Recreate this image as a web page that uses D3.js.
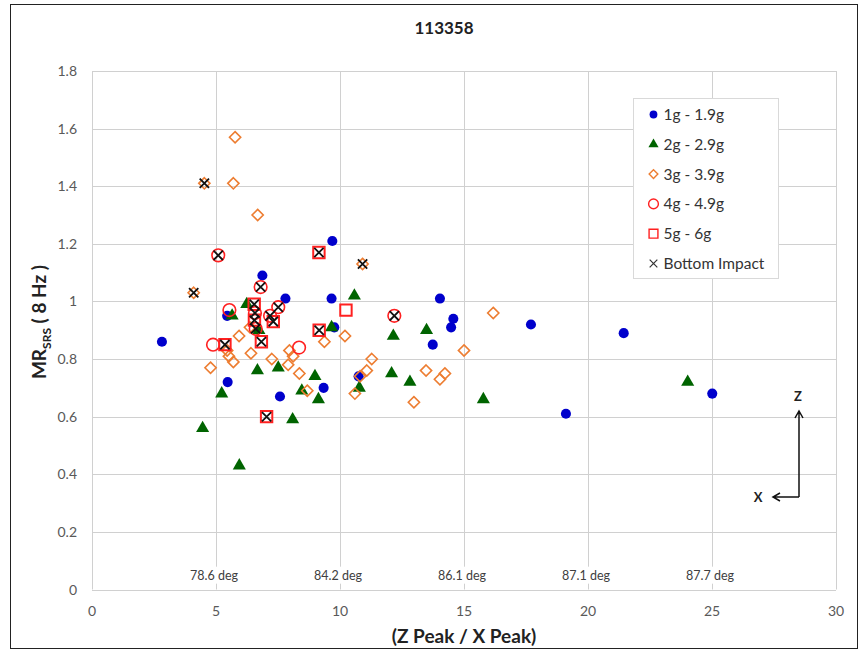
<!DOCTYPE html>
<html>
<head>
<meta charset="utf-8">
<script src="https://cdn.jsdelivr.net/npm/d3@7"></script>
<style>
  body { margin: 0; background: #fff; }
  text { font-family: Lato, "Open Sans", sans-serif; }
</style>
</head>
<body>
<div id="chart"></div>
<script>
/** Series values as [ratio, MR] pairs */
var oneG = [[2.82,0.86],[5.45,0.95],[5.47,0.72],[6.87,1.09],[7.58,0.67],[7.80,1.01],[9.34,0.70],[9.66,1.01],[9.69,1.21],[9.77,0.91],[10.75,0.74],[13.74,0.85],[14.03,1.01],[14.48,0.91],[14.57,0.94],[17.70,0.92],[19.11,0.61],[21.44,0.89],[25.01,0.68]];
var twoG = [[4.46,0.56],[5.23,0.68],[5.65,0.95],[5.94,0.43],[6.24,0.99],[6.67,0.76],[6.73,0.90],[7.51,0.77],[8.09,0.59],[8.46,0.69],[8.99,0.74],[9.13,0.66],[9.66,0.91],[10.58,1.02],[10.78,0.70],[12.08,0.75],[12.15,0.88],[12.82,0.72],[13.49,0.90],[15.78,0.66],[24.02,0.72]];
var threeG = [[4.10,1.03],[4.53,1.41],[4.78,0.77],[5.45,0.83],[5.52,0.81],[5.70,0.79],[5.70,1.41],[5.77,1.57],[5.93,0.88],[6.37,0.91],[6.41,0.82],[6.68,1.30],[7.25,0.80],[7.91,0.78],[7.96,0.83],[8.11,0.81],[8.36,0.75],[8.68,0.69],[9.37,0.86],[10.20,0.88],[10.60,0.68],[10.81,0.74],[10.91,1.13],[11.08,0.76],[11.28,0.80],[12.98,0.65],[13.47,0.76],[14.03,0.73],[14.23,0.75],[15.00,0.83],[16.18,0.96]];
var fourG = [[4.88,0.85],[5.09,1.16],[5.54,0.97],[6.57,0.96],[6.60,0.905],[6.80,1.05],[7.18,0.95],[7.51,0.98],[8.35,0.84],[12.19,0.95]];
var fiveG = [[5.36,0.85],[6.54,0.99],[6.55,0.935],[6.83,0.86],[7.04,0.60],[7.31,0.93],[9.15,1.17],[9.16,0.90],[10.24,0.97]];
var bottomImpact = [[4.10,1.03],[4.53,1.41],[10.91,1.13],[5.09,1.16],[6.57,0.96],[6.60,0.905],[6.80,1.05],[7.18,0.95],[7.51,0.98],[12.19,0.95],[5.36,0.85],[6.54,0.99],[6.55,0.935],[6.83,0.86],[7.04,0.60],[7.31,0.93],[9.15,1.17],[9.16,0.90]];

/** Angle labels along the bottom of the plot */
var degTicks = [5, 10, 15, 20, 25];
var degLabels = ["78.6 deg", "84.2 deg", "86.1 deg", "87.1 deg", "87.7 deg"];
var xTicks = [0, 5, 10, 15, 20, 25, 30];
var yTicks = [0, 0.2, 0.4, 0.6, 0.8, 1, 1.2, 1.4, 1.6, 1.8];

var width = 868, height = 653;
var svg = d3.select("#chart").append("svg")
  .attr("width", width)
  .attr("height", height);

svg.append("rect")
  .attr("x", 10.5).attr("y", 4.5)
  .attr("width", 847).attr("height", 644)
  .attr("fill", "#fff").attr("stroke", "#222").attr("stroke-width", 1);

var x = d3.scaleLinear().domain([0, 30]).range([92, 836]);
var y = d3.scaleLinear().domain([0, 1.8]).range([589.5, 71]);

/** Gridlines */
svg.append("g").selectAll("line").data(yTicks).join("line")
  .attr("x1", x(0)).attr("x2", x(30))
  .attr("y1", function(d){ return Math.round(y(d)) + 0.5; })
  .attr("y2", function(d){ return Math.round(y(d)) + 0.5; })
  .attr("stroke", "#d0d0d0");
svg.append("g").selectAll("line").data(xTicks).join("line")
  .attr("y1", y(0)).attr("y2", y(1.8))
  .attr("x1", function(d){ return Math.round(x(d)) + 0.5; })
  .attr("x2", function(d){ return Math.round(x(d)) + 0.5; })
  .attr("stroke", "#d0d0d0");

/** Tick labels */
svg.append("g").selectAll("text").data(yTicks).join("text")
  .attr("x", 77).attr("y", function(d){ return y(d) + 5; })
  .attr("text-anchor", "end")
  .attr("font-size", 14).attr("fill", "#595959")
  .text(function(d){ return d3.format("")(+d.toFixed(1)); });
svg.append("g").selectAll("text").data(xTicks).join("text")
  .attr("x", function(d){ return x(d); }).attr("y", 616)
  .attr("text-anchor", "middle")
  .attr("font-size", 14).attr("fill", "#595959")
  .text(function(d){ return d; });

/** Angle labels with white boxes */
var deg = svg.append("g").selectAll("g").data(degTicks).join("g")
  .attr("transform", function(d){ return "translate(" + x(d) + "," + y(0.048) + ")"; });
deg.append("rect")
  .attr("x", -30).attr("y", -9).attr("width", 58).attr("height", 17)
  .attr("fill", "#fff");
deg.append("text")
  .attr("x", -2).attr("y", 4.5)
  .attr("text-anchor", "middle")
  .attr("font-size", 12.5).attr("fill", "#404040")
  .text(function(d, i){ return degLabels[i]; });

/** Titles */
svg.append("text")
  .attr("x", 444).attr("y", 34)
  .attr("text-anchor", "middle")
  .attr("font-size", 17).attr("font-weight", "bold").attr("fill", "#222")
  .text("113358");
svg.append("text")
  .attr("x", 464).attr("y", 643)
  .attr("text-anchor", "middle")
  .attr("font-size", 19).attr("font-weight", "bold").attr("fill", "#222")
  .text("(Z Peak / X Peak)");
var yt = svg.append("text")
  .attr("transform", "translate(46,322) rotate(-90)")
  .attr("text-anchor", "middle")
  .attr("font-size", 19).attr("font-weight", "bold").attr("fill", "#222");
yt.append("tspan").text("MR");
yt.append("tspan").attr("font-size", 12).attr("dy", 5).text("SRS");
yt.append("tspan").attr("dy", -5).text(" ( 8 Hz )");

/**
 * @desc Draws one series of markers.
 * @param {Array} data Points as [x, y] pairs.
 * @param {Object} type d3 symbol type.
 * @param {int} size Symbol area.
 * @param {string} fill Fill colour.
 * @param {string} stroke Stroke colour.
 * @param {number} sw Stroke width.
 */
function drawSeries(data, type, size, fill, stroke, sw)
{
  svg.append("g").selectAll("path").data(data).join("path")
    .attr("transform", function(d){ return "translate(" + x(d[0]) + "," + y(d[1]) + ")"; })
    .attr("d", d3.symbol().type(type).size(size)())
    .attr("fill", fill).attr("stroke", stroke).attr("stroke-width", sw);
}

var series = [
  { name: "1g - 1.9g", data: oneG, type: d3.symbolCircle, size: 80, fill: "#0000cc", stroke: "none", sw: 0 },
  { name: "2g - 2.9g", data: twoG, type: d3.symbolTriangle, size: 74, fill: "#006400", stroke: "none", sw: 0 },
  { name: "3g - 3.9g", data: threeG, type: d3.symbolDiamond2, size: 80, fill: "none", stroke: "#ed7d31", sw: 1.6 },
  { name: "4g - 4.9g", data: fourG, type: d3.symbolCircle, size: 125, fill: "none", stroke: "#ff2020", sw: 1.6 },
  { name: "5g - 6g", data: fiveG, type: d3.symbolSquare, size: 130, fill: "none", stroke: "#ff2020", sw: 2 },
  { name: "Bottom Impact", data: bottomImpact, type: d3.symbolTimes, size: 58, fill: "none", stroke: "#111", sw: 1.8 }
];
series.forEach(function(s){ drawSeries(s.data, s.type, s.size, s.fill, s.stroke, s.sw); });

/** Legend */
var legend = svg.append("g").attr("transform", "translate(633.5,98.5)");
legend.append("rect")
  .attr("width", 145).attr("height", 180)
  .attr("fill", "#fff").attr("stroke", "#d9d9d9");
var items = legend.selectAll("g").data(series).join("g")
  .attr("transform", function(d, i){ return "translate(20," + (16 + i * 29.8) + ")"; });
items.append("path")
  .attr("d", function(d){ return d3.symbol().type(d.type).size(d.type === d3.symbolTimes ? 40 : d.size * 0.6)(); })
  .attr("fill", function(d){ return d.fill; })
  .attr("stroke", function(d){ return d.type === d3.symbolTimes ? "#333" : d.stroke; })
  .attr("stroke-width", function(d){ return d.type === d3.symbolTimes ? 1.2 : Math.min(d.sw, 1.4); });
items.append("text")
  .attr("x", 10).attr("y", 5.5)
  .attr("font-size", 15.5).attr("fill", "#333")
  .text(function(d){ return d.name; });

/** Z / X direction arrows */
var ax = svg.append("g").attr("fill", "none").attr("stroke", "#111").attr("stroke-width", 1.5);
ax.append("path").attr("d", "M799,497 L799,412 M795,418 L799,411 L803,418 M799,497 L774,497 M780,493 L773,497 L780,501");
svg.append("text").attr("x", 798).attr("y", 401).attr("text-anchor", "middle")
  .attr("font-size", 13).attr("font-weight", "bold").attr("fill", "#222").text("Z");
svg.append("text").attr("x", 758).attr("y", 502).attr("text-anchor", "middle")
  .attr("font-size", 13).attr("font-weight", "bold").attr("fill", "#222").text("X");
</script>
</body>
</html>
